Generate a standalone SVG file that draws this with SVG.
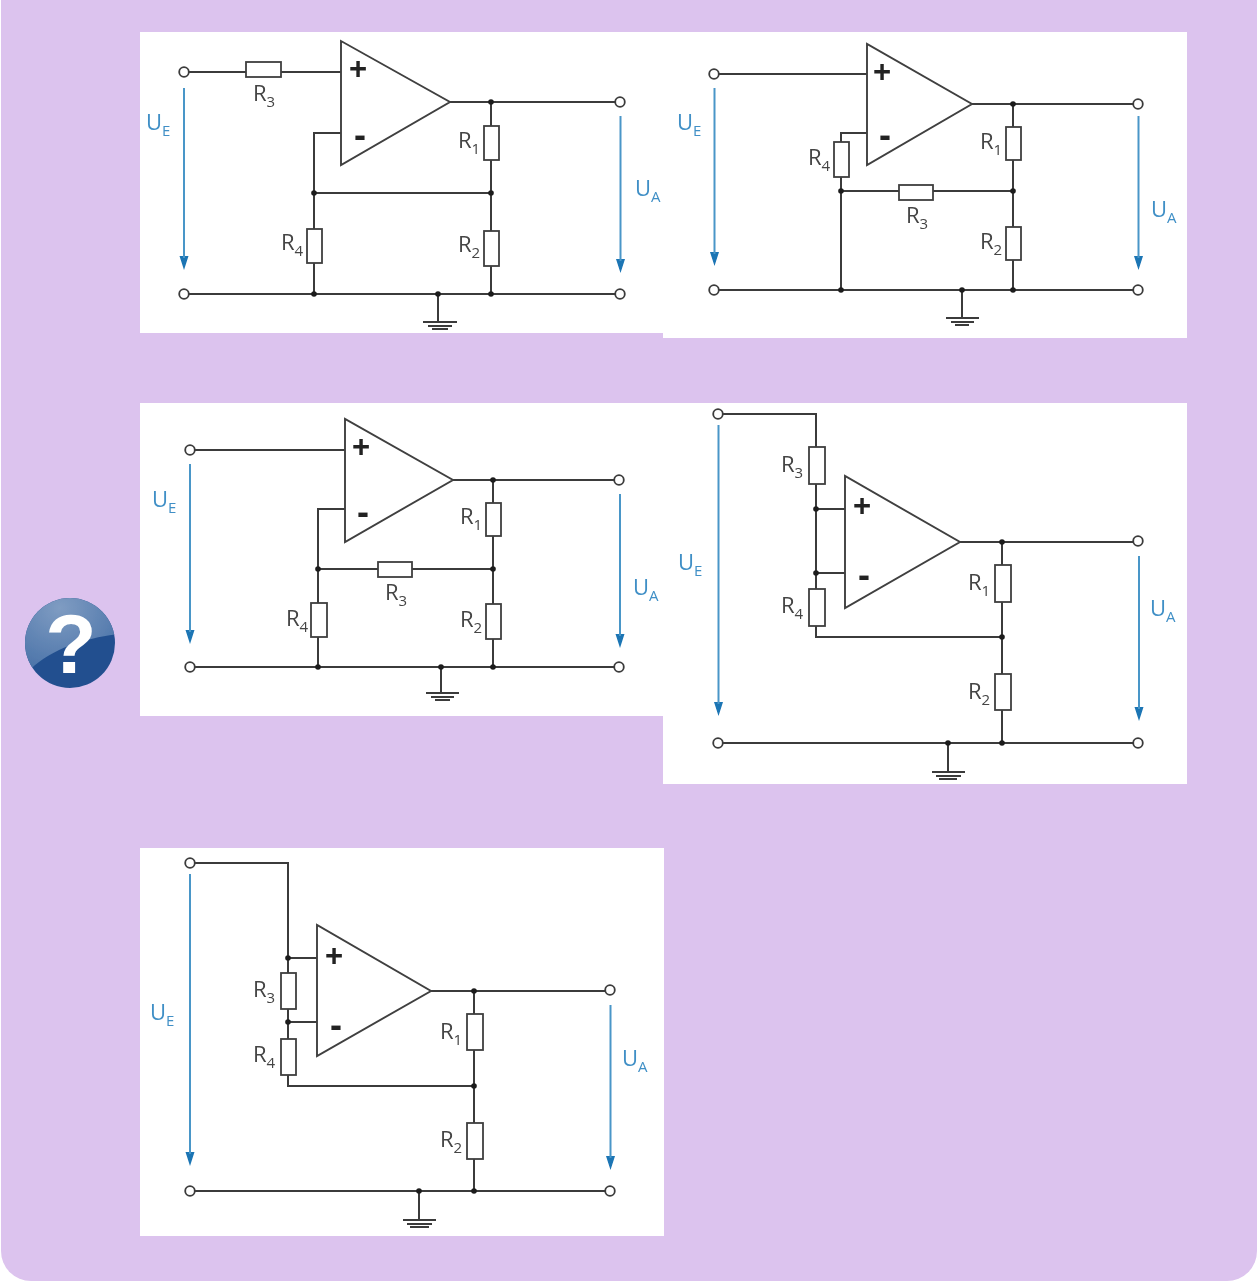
<svg xmlns="http://www.w3.org/2000/svg" width="1257" height="1281" viewBox="0 0 1257 1281">
<style>
.panel{fill:#fff}
.w{fill:none;stroke:#3a3a3a;stroke-width:2}
.op{fill:#fff;stroke:#3f3f3f;stroke-width:1.9}
.r{fill:#fff;stroke:#3f3f3f;stroke-width:1.8}
.t{fill:#fff;stroke:#3a3a3a;stroke-width:1.8}
.d{fill:#1c1c1c}
.l{font-family:"Open Sans","DejaVu Sans",sans-serif;font-size:22px;fill:#444}
.b{font-family:"Open Sans","DejaVu Sans",sans-serif;font-size:22px;fill:#3f8fc6}
.s{font-size:15px}
.p{font-family:"Liberation Sans",sans-serif;font-weight:bold;font-size:31px;fill:#222;text-anchor:middle}
.m{font-family:"Liberation Sans",sans-serif;font-weight:bold;font-size:36px;fill:#222;text-anchor:middle}
#connectors,#circuit-1,#circuit-2,#circuit-3,#circuit-4,#circuit-5,#help-icon{filter:url(#soft)}
</style>
<defs>
<filter id="soft" x="0" y="0" width="1257" height="1281" filterUnits="userSpaceOnUse"><feGaussianBlur stdDeviation="0.45"/></filter>
<radialGradient id="qg" cx="0.4" cy="0.2" r="0.9"><stop offset="0" stop-color="#7f9cc2"/><stop offset="1" stop-color="#3f6aa3"/></radialGradient>
<clipPath id="qc"><circle cx="70" cy="643" r="45"/></clipPath>
</defs>
<path id="background" d="M1 0H1257V1251A30 30 0 0 1 1227 1281H31A30 30 0 0 1 1 1251Z" fill="#dcc3ee"/>
<g id="help-icon">
<circle cx="70" cy="643" r="45" fill="#22508f"/>
<path clip-path="url(#qc)" d="M20 590H120V634C90 637 52 648 31 669L20 680Z" fill="url(#qg)"/>
<text x="71" y="673" font-family="'Liberation Sans',sans-serif" font-weight="bold" font-size="84" fill="#fff" text-anchor="middle">?</text>
</g>
<rect class="panel" x="140" y="32" width="523" height="301"/>
<rect class="panel" x="663" y="32" width="524" height="306"/>
<rect class="panel" x="140" y="403" width="523" height="313"/>
<rect class="panel" x="663" y="403" width="524" height="381"/>
<rect class="panel" x="140" y="848" width="524" height="388"/>

<g id="connectors">
<path class="w" d="M184 72H341M450 102H620M491 102V294M341 133H314V294M314 193H491M184 294H620M438 294V322M423 322H457M428 326H452M432 329H448"/>
<path class="w" d="M714 74H867M972 104H1138M1013 104V290M867 133H841V290M841 191H1013M714 290H1138M962 290V318M946 318H979M951 322H974M955 325H969"/>
<path class="w" d="M190 450H345M453 480H619M493 480V667M345 509H318V667M318 569H493M190 667H619M441 667V693M426 693H459M431 697H454M435 700H450"/>
<path class="w" d="M718 414H816V637H1002M816 509H845M816 573H845M960 542H1138M1002 542V743M718 743H1138M948 743V772M932 772H965M936 776H961M939 779H957"/>
<path class="w" d="M190 863H288V1086H474M288 958H317M288 1022H317M431 991H610M474 991V1191M190 1191H610M419 1191V1220M403 1220H436M407 1224H432M410 1227H429"/>
<g fill="#1a74b4">
<path d="M179.500 256H188.500L184 270Z M616 259H625L620.500 273Z M710 252H719L714.500 266Z M1134 256H1143L1138.500 270Z M185.500 630H194.500L190 644Z M615.500 634H624.500L620 648Z M714 702H723L718.500 716Z M1134.500 707H1143.500L1139 721Z M185.500 1152H194.500L190 1166Z M606 1156H615L610.500 1170Z"/>
</g>
<path fill="none" stroke="#4a96c8" stroke-width="2" d="M184 88V258M620.500 116V261M714.500 88V254M1138.500 116V258M190 464V632M620 494V636M718.500 425V704M1139 556V709M190 874V1154M610.500 1005V1158"/>
</g>

<g id="circuit-1">
<polygon id="c1-opamp" class="op" points="341,41 341,165 450,102"/>
<g id="c1-r3"><rect class="r" x="246" y="62" width="35" height="15"/><text class="l" x="253" y="101">R<tspan class="s" dy="6">3</tspan></text></g>
<g id="c1-r1"><rect class="r" x="484" y="126" width="15" height="34"/><text class="l" x="458" y="148">R<tspan class="s" dy="6">1</tspan></text></g>
<g id="c1-r2"><rect class="r" x="484" y="231" width="15" height="35"/><text class="l" x="458" y="252">R<tspan class="s" dy="6">2</tspan></text></g>
<g id="c1-r4"><rect class="r" x="307" y="229" width="15" height="34"/><text class="l" x="281" y="250">R<tspan class="s" dy="6">4</tspan></text></g>
<text class="p" x="358" y="79">+</text><text class="m" x="360" y="147">-</text>
<text class="b" x="146" y="130">U<tspan class="s" dy="6">E</tspan></text><text class="b" x="635" y="196">U<tspan class="s" dy="6">A</tspan></text>
<g class="d"><circle cx="491" cy="102" r="2.800"/><circle cx="314" cy="193" r="2.800"/><circle cx="491" cy="193" r="2.800"/><circle cx="314" cy="294" r="2.800"/><circle cx="438" cy="294" r="2.800"/><circle cx="491" cy="294" r="2.800"/></g>
<g id="c1-terminals"><circle class="t" cx="184" cy="72" r="4.800"/><circle class="t" cx="184" cy="294" r="4.800"/><circle class="t" cx="620" cy="102" r="4.800"/><circle class="t" cx="620" cy="294" r="4.800"/></g>
</g>

<g id="circuit-2">
<polygon id="c2-opamp" class="op" points="867,44 867,165 972,104"/>
<g id="c2-r1"><rect class="r" x="1006" y="127" width="15" height="33"/><text class="l" x="980" y="149">R<tspan class="s" dy="6">1</tspan></text></g>
<g id="c2-r2"><rect class="r" x="1006" y="227" width="15" height="33"/><text class="l" x="980" y="249">R<tspan class="s" dy="6">2</tspan></text></g>
<g id="c2-r3"><rect class="r" x="899" y="185" width="34" height="15"/><text class="l" x="906" y="223">R<tspan class="s" dy="6">3</tspan></text></g>
<g id="c2-r4"><rect class="r" x="834" y="142" width="15" height="35"/><text class="l" x="808" y="165">R<tspan class="s" dy="6">4</tspan></text></g>
<text class="p" x="882" y="82">+</text><text class="m" x="885" y="147">-</text>
<text class="b" x="677" y="130">U<tspan class="s" dy="6">E</tspan></text><text class="b" x="1151" y="217">U<tspan class="s" dy="6">A</tspan></text>
<g class="d"><circle cx="1013" cy="104" r="2.800"/><circle cx="841" cy="191" r="2.800"/><circle cx="1013" cy="191" r="2.800"/><circle cx="841" cy="290" r="2.800"/><circle cx="962" cy="290" r="2.800"/><circle cx="1013" cy="290" r="2.800"/></g>
<g id="c2-terminals"><circle class="t" cx="714" cy="74" r="4.800"/><circle class="t" cx="714" cy="290" r="4.800"/><circle class="t" cx="1138" cy="104" r="4.800"/><circle class="t" cx="1138" cy="290" r="4.800"/></g>
</g>

<g id="circuit-3">
<polygon id="c3-opamp" class="op" points="345,419 345,542 453,480"/>
<g id="c3-r1"><rect class="r" x="486" y="503" width="15" height="33"/><text class="l" x="460" y="524">R<tspan class="s" dy="6">1</tspan></text></g>
<g id="c3-r2"><rect class="r" x="486" y="604" width="15" height="35"/><text class="l" x="460" y="627">R<tspan class="s" dy="6">2</tspan></text></g>
<g id="c3-r3"><rect class="r" x="378" y="562" width="34" height="15"/><text class="l" x="385" y="600">R<tspan class="s" dy="6">3</tspan></text></g>
<g id="c3-r4"><rect class="r" x="311" y="603" width="16" height="34"/><text class="l" x="286" y="626">R<tspan class="s" dy="6">4</tspan></text></g>
<text class="p" x="361" y="457">+</text><text class="m" x="363" y="524">-</text>
<text class="b" x="152" y="507">U<tspan class="s" dy="6">E</tspan></text><text class="b" x="633" y="595">U<tspan class="s" dy="6">A</tspan></text>
<g class="d"><circle cx="493" cy="480" r="2.800"/><circle cx="318" cy="569" r="2.800"/><circle cx="493" cy="569" r="2.800"/><circle cx="318" cy="667" r="2.800"/><circle cx="441" cy="667" r="2.800"/><circle cx="493" cy="667" r="2.800"/></g>
<g id="c3-terminals"><circle class="t" cx="190" cy="450" r="4.800"/><circle class="t" cx="190" cy="667" r="4.800"/><circle class="t" cx="619" cy="480" r="4.800"/><circle class="t" cx="619" cy="667" r="4.800"/></g>
</g>

<g id="circuit-4">
<polygon id="c4-opamp" class="op" points="845,476 845,608 960,542"/>
<g id="c4-r1"><rect class="r" x="995" y="565" width="16" height="37"/><text class="l" x="968" y="590">R<tspan class="s" dy="6">1</tspan></text></g>
<g id="c4-r2"><rect class="r" x="995" y="674" width="16" height="36"/><text class="l" x="968" y="699">R<tspan class="s" dy="6">2</tspan></text></g>
<g id="c4-r3"><rect class="r" x="809" y="447" width="16" height="37"/><text class="l" x="781" y="472">R<tspan class="s" dy="6">3</tspan></text></g>
<g id="c4-r4"><rect class="r" x="809" y="589" width="16" height="37"/><text class="l" x="781" y="613">R<tspan class="s" dy="6">4</tspan></text></g>
<text class="p" x="862" y="516">+</text><text class="m" x="864" y="587">-</text>
<text class="b" x="678" y="570">U<tspan class="s" dy="6">E</tspan></text><text class="b" x="1150" y="616">U<tspan class="s" dy="6">A</tspan></text>
<g class="d"><circle cx="816" cy="509" r="2.800"/><circle cx="816" cy="573" r="2.800"/><circle cx="1002" cy="542" r="2.800"/><circle cx="1002" cy="637" r="2.800"/><circle cx="948" cy="743" r="2.800"/><circle cx="1002" cy="743" r="2.800"/></g>
<g id="c4-terminals"><circle class="t" cx="718" cy="414" r="4.800"/><circle class="t" cx="718" cy="743" r="4.800"/><circle class="t" cx="1138" cy="541" r="4.800"/><circle class="t" cx="1138" cy="743" r="4.800"/></g>
</g>

<g id="circuit-5">
<polygon id="c5-opamp" class="op" points="317,925 317,1056 431,991"/>
<g id="c5-r1"><rect class="r" x="467" y="1014" width="16" height="36"/><text class="l" x="440" y="1039">R<tspan class="s" dy="6">1</tspan></text></g>
<g id="c5-r2"><rect class="r" x="467" y="1123" width="16" height="36"/><text class="l" x="440" y="1147">R<tspan class="s" dy="6">2</tspan></text></g>
<g id="c5-r3"><rect class="r" x="281" y="973" width="15" height="36"/><text class="l" x="253" y="997">R<tspan class="s" dy="6">3</tspan></text></g>
<g id="c5-r4"><rect class="r" x="281" y="1039" width="15" height="36"/><text class="l" x="253" y="1062">R<tspan class="s" dy="6">4</tspan></text></g>
<text class="p" x="334" y="966">+</text><text class="m" x="336" y="1037">-</text>
<text class="b" x="150" y="1020">U<tspan class="s" dy="6">E</tspan></text><text class="b" x="622" y="1066">U<tspan class="s" dy="6">A</tspan></text>
<g class="d"><circle cx="288" cy="958" r="2.800"/><circle cx="288" cy="1022" r="2.800"/><circle cx="474" cy="991" r="2.800"/><circle cx="474" cy="1086" r="2.800"/><circle cx="419" cy="1191" r="2.800"/><circle cx="474" cy="1191" r="2.800"/></g>
<g id="c5-terminals"><circle class="t" cx="190" cy="863" r="4.800"/><circle class="t" cx="190" cy="1191" r="4.800"/><circle class="t" cx="610" cy="990" r="4.800"/><circle class="t" cx="610" cy="1191" r="4.800"/></g>
</g>
</svg>
